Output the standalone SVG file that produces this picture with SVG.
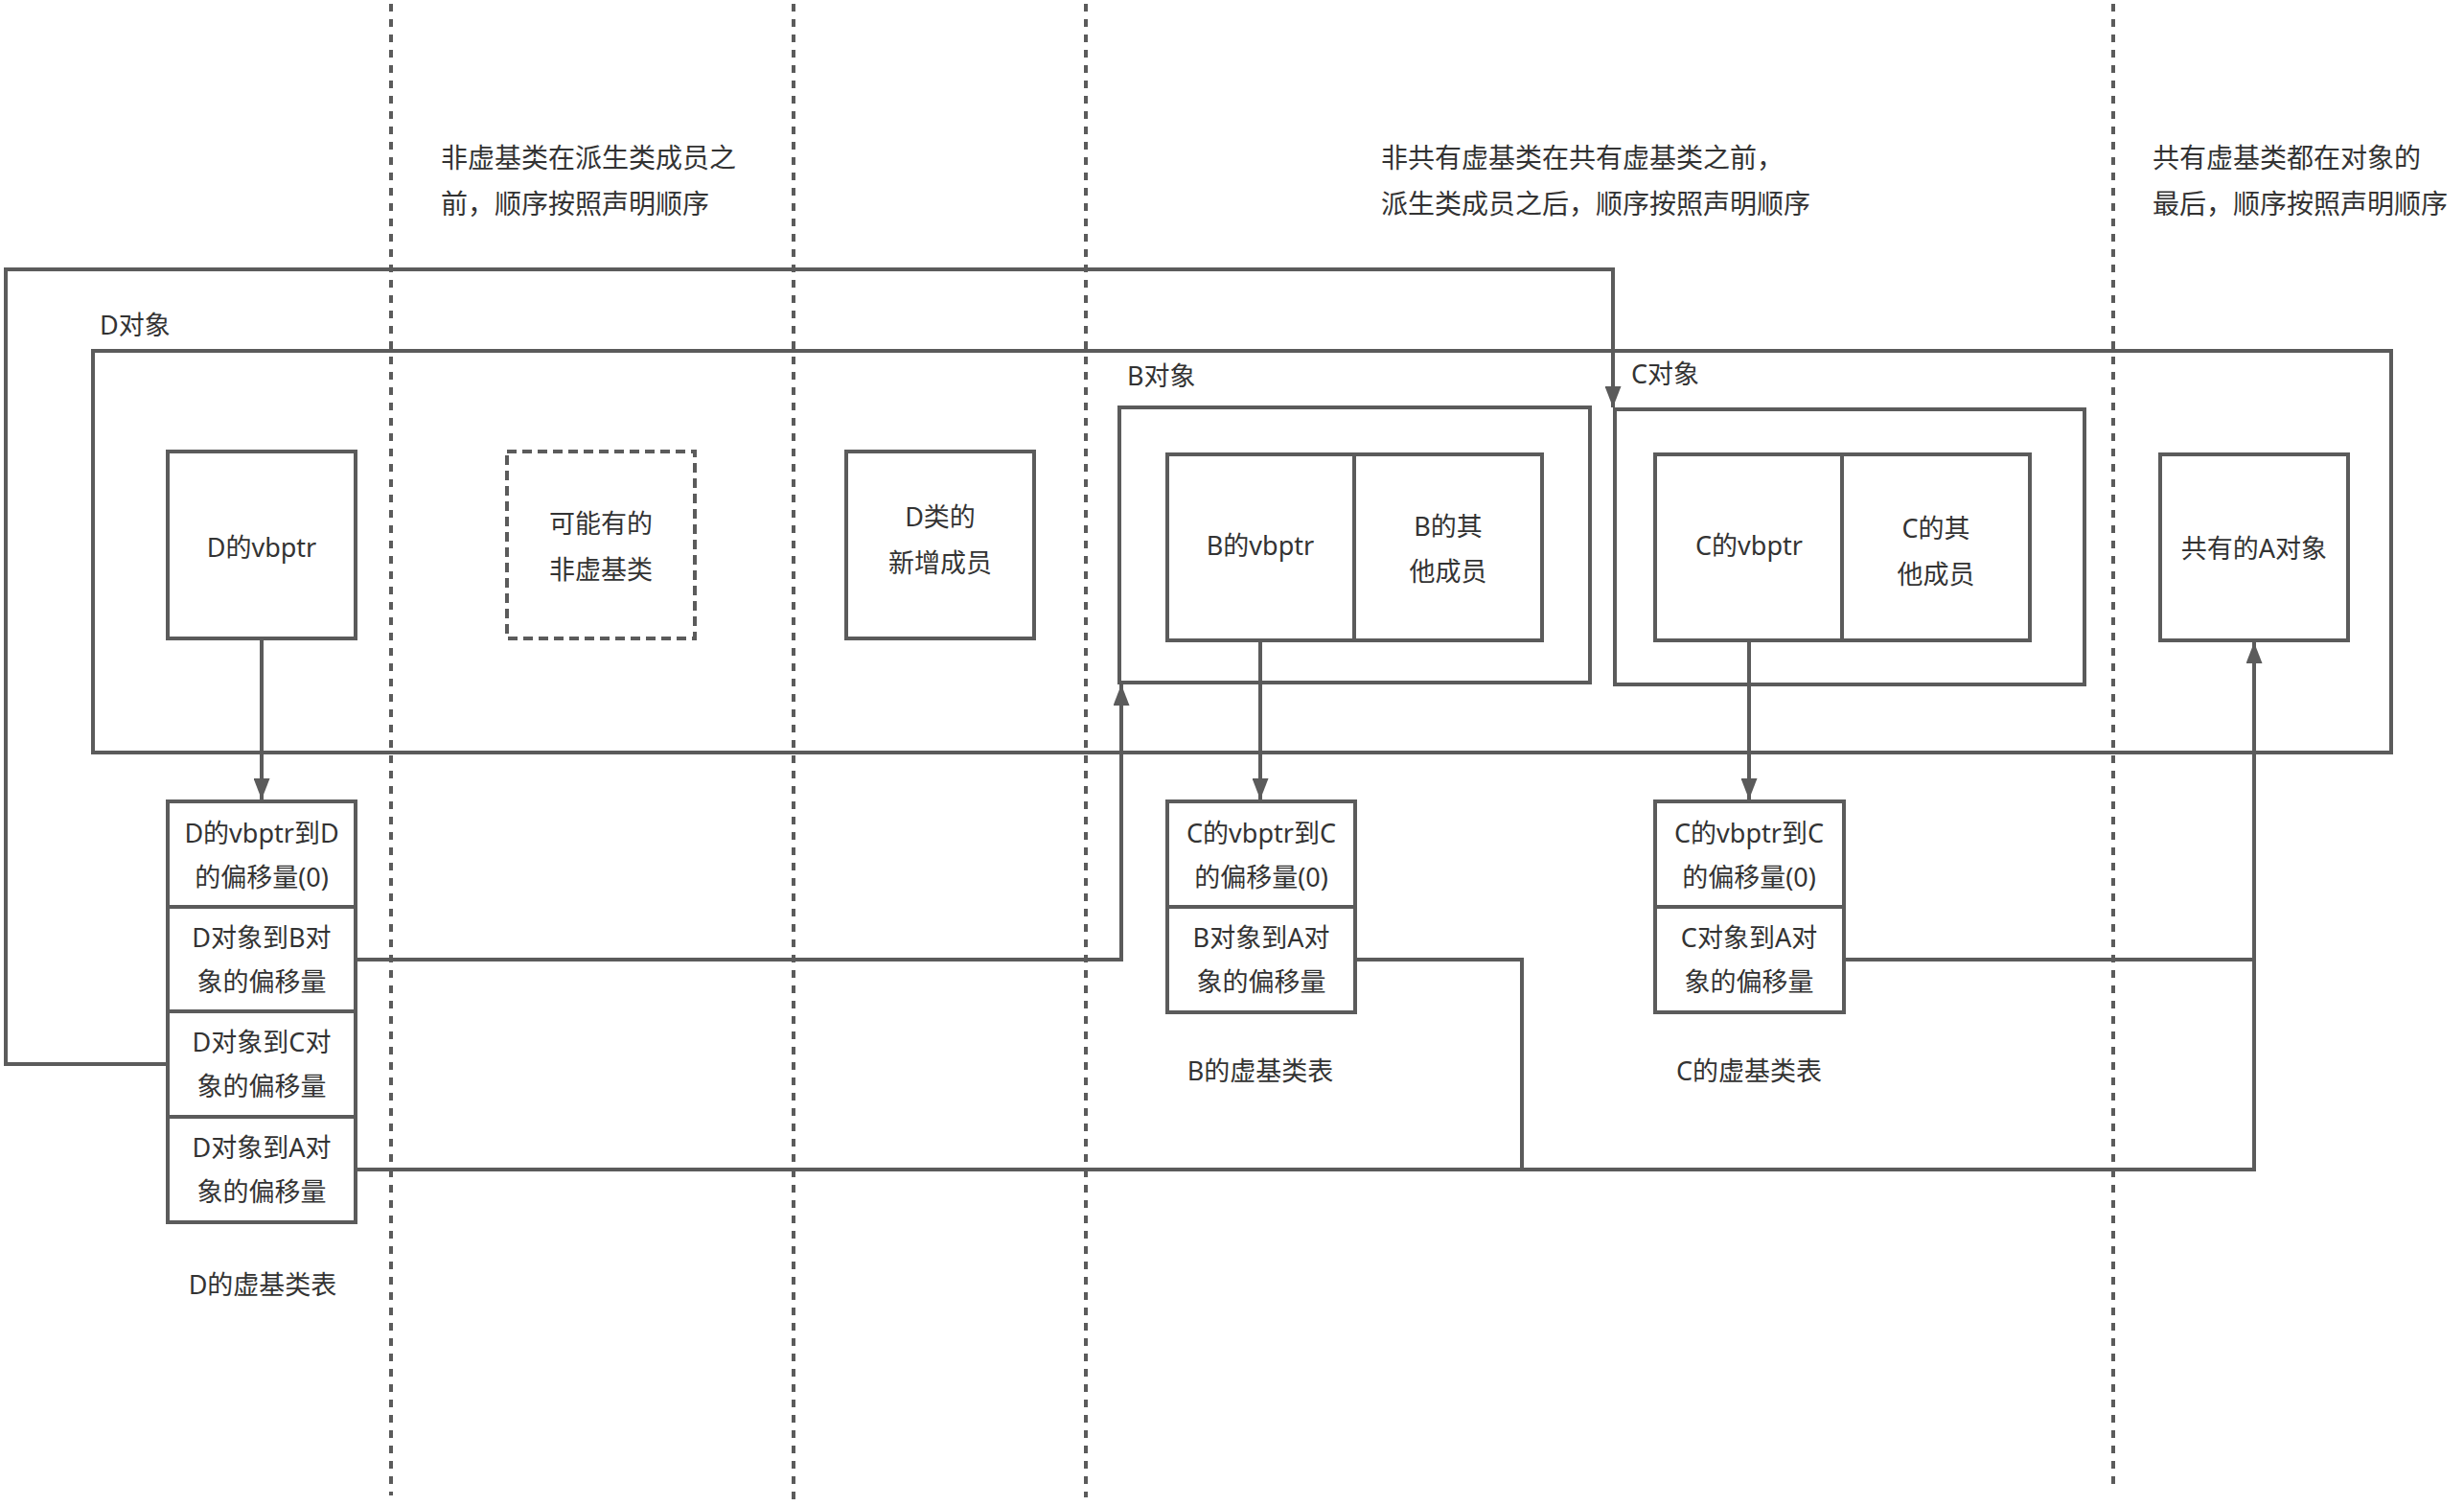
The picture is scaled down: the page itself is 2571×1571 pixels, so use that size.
<svg xmlns="http://www.w3.org/2000/svg" width="2571" height="1571" viewBox="0 0 2571 1571">
<style>
.bg{fill:#ffffff}
.sep{stroke:#5b5b5b;stroke-width:4;stroke-dasharray:8 8;fill:none}
.box{fill:#ffffff;stroke:#5b5b5b;stroke-width:4}
.frame{fill:none;stroke:#5b5b5b;stroke-width:4}
.dbox{fill:#ffffff;stroke:#5b5b5b;stroke-width:4;stroke-dasharray:10 6}
.edge{fill:none;stroke:#5b5b5b;stroke-width:4}
.t{font-family:"Noto Sans","Noto Sans CJK SC",sans-serif;font-size:27px;fill:#333333}
.n{font-size:28px}
.m{text-anchor:middle}
</style>
<defs>
<marker id="arr" viewBox="0 0 22 17" refX="22" refY="8.5" markerWidth="22" markerHeight="17" markerUnits="userSpaceOnUse" orient="auto">
<path d="M0,0 L22,8.5 L0,17 Z" fill="#5b5b5b"/>
</marker>
</defs>
<rect class="bg" x="0" y="0" width="2571" height="1571"/>

<g id="separators">
<line class="sep" x1="408" y1="4" x2="408" y2="1560"/>
<line class="sep" x1="828" y1="4" x2="828" y2="1571"/>
<line class="sep" x1="1133" y1="4" x2="1133" y2="1562"/>
<line class="sep" x1="2205" y1="4" x2="2205" y2="1556"/>
</g>

<g id="notes">
<text class="t n" x="460" y="175">非虚基类在派生类成员之</text>
<text class="t n" x="460" y="223">前，顺序按照声明顺序</text>
<text class="t n" x="1441" y="175">非共有虚基类在共有虚基类之前，</text>
<text class="t n" x="1441" y="223">派生类成员之后，顺序按照声明顺序</text>
<text class="t n" x="2246" y="175">共有虚基类都在对象的</text>
<text class="t n" x="2246" y="223">最后，顺序按照声明顺序</text>
</g>

<g id="d-object">
<rect class="frame" x="97" y="366" width="2398" height="419"/>
<text class="t" x="104" y="349">D对象</text>
</g>

<g id="d-vbptr">
<rect class="box" x="175" y="471" width="196" height="195"/>
<text class="t m" x="273" y="581">D的vbptr</text>
</g>

<g id="non-virtual-base">
<rect class="dbox" x="529" y="471" width="196" height="195"/>
<text class="t m" x="627" y="556">可能有的</text>
<text class="t m" x="627" y="604">非虚基类</text>
</g>

<g id="d-members">
<rect class="box" x="883" y="471" width="196" height="195"/>
<text class="t m" x="981" y="549">D类的</text>
<text class="t m" x="981" y="597">新增成员</text>
</g>

<g id="b-object">
<rect class="box" x="1168" y="425" width="491" height="287"/>
<text class="t" x="1176" y="402">B对象</text>
</g>

<g id="b-vbptr">
<rect class="box" x="1218" y="474" width="195" height="194"/>
<text class="t m" x="1315" y="579">B的vbptr</text>
</g>

<g id="b-members">
<rect class="box" x="1413" y="474" width="196" height="194"/>
<text class="t m" x="1511" y="559">B的其</text>
<text class="t m" x="1511" y="606">他成员</text>
</g>

<g id="c-object">
<rect class="box" x="1685" y="427" width="490" height="287"/>
<text class="t" x="1702" y="400">C对象</text>
</g>

<g id="c-vbptr">
<rect class="box" x="1727" y="474" width="195" height="194"/>
<text class="t m" x="1825" y="579">C的vbptr</text>
</g>

<g id="c-members">
<rect class="box" x="1922" y="474" width="196" height="194"/>
<text class="t m" x="2020" y="561">C的其</text>
<text class="t m" x="2020" y="609">他成员</text>
</g>

<g id="a-object">
<rect class="box" x="2254" y="474" width="196" height="194"/>
<text class="t m" x="2352" y="582">共有的A对象</text>
</g>

<g id="d-vbtable">
<rect class="box" x="175" y="836" width="196" height="110"/>
<text class="t m" x="273" y="879">D的vbptr到D</text>
<text class="t m" x="273" y="925">的偏移量(0)</text>
<rect class="box" x="175" y="946" width="196" height="109"/>
<text class="t m" x="273" y="988">D对象到B对</text>
<text class="t m" x="273" y="1034">象的偏移量</text>
<rect class="box" x="175" y="1055" width="196" height="110"/>
<text class="t m" x="273" y="1097">D对象到C对</text>
<text class="t m" x="273" y="1143">象的偏移量</text>
<rect class="box" x="175" y="1165" width="196" height="110"/>
<text class="t m" x="273" y="1207">D对象到A对</text>
<text class="t m" x="273" y="1253">象的偏移量</text>
<text class="t m" x="274" y="1350">D的虚基类表</text>
</g>

<g id="b-vbtable">
<rect class="box" x="1218" y="836" width="196" height="110"/>
<text class="t m" x="1316" y="879">C的vbptr到C</text>
<text class="t m" x="1316" y="925">的偏移量(0)</text>
<rect class="box" x="1218" y="946" width="196" height="110"/>
<text class="t m" x="1316" y="988">B对象到A对</text>
<text class="t m" x="1316" y="1034">象的偏移量</text>
<text class="t m" x="1315" y="1127">B的虚基类表</text>
</g>

<g id="c-vbtable">
<rect class="box" x="1727" y="836" width="197" height="110"/>
<text class="t m" x="1825" y="879">C的vbptr到C</text>
<text class="t m" x="1825" y="925">的偏移量(0)</text>
<rect class="box" x="1727" y="946" width="197" height="110"/>
<text class="t m" x="1825" y="988">C对象到A对</text>
<text class="t m" x="1825" y="1034">象的偏移量</text>
<text class="t m" x="1825" y="1127">C的虚基类表</text>
</g>

<g id="connectors">
<path class="edge" d="M273,666 L273,834" marker-end="url(#arr)"/>
<path class="edge" d="M1315,668 L1315,834" marker-end="url(#arr)"/>
<path class="edge" d="M1825,668 L1825,834" marker-end="url(#arr)"/>
<path class="edge" d="M175,1110 L6,1110 L6,281 L1683,281 L1683,425" marker-end="url(#arr)"/>
<path class="edge" d="M371,1001 L1170,1001 L1170,714" marker-end="url(#arr)"/>
<path class="edge" d="M371,1220 L2352,1220 L2352,670" marker-end="url(#arr)"/>
<path class="edge" d="M1414,1001 L1588,1001 L1588,1220"/>
<path class="edge" d="M1924,1001 L2352,1001"/>
</g>
</svg>
